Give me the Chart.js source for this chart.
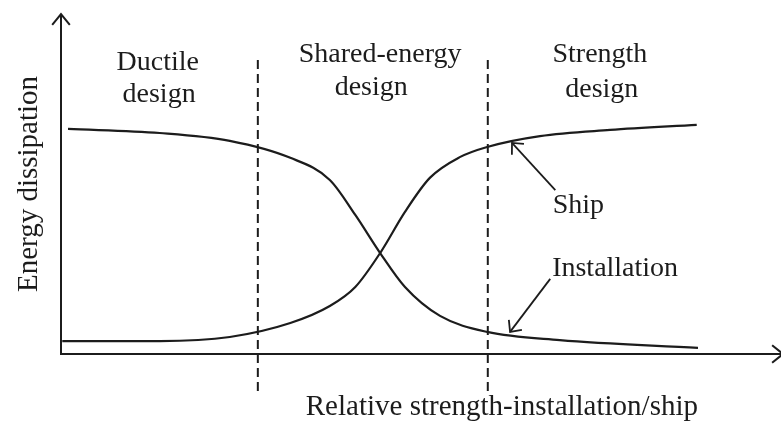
<!DOCTYPE html>
<html><head><meta charset="utf-8">
<script src="https://cdn.jsdelivr.net/npm/chart.js@4"></script>
<style>html,body{margin:0;padding:0;background:#fff}</style>
</head><body>
<canvas id="c" width="781" height="435"></canvas>
<script>
// ---- data (schematic, data units: x 0..100, y 0..100) ----
const shipX = [0.2, 15.5, 26.5, 36.0, 42.2, 46.2, 50.1, 54.0, 57.9, 62.6, 66.9, 75.2, 86.2, 99.8];
const shipY = [3.8, 3.8, 5.0, 9.1, 14.1, 19.7, 29.7, 41.8, 51.8, 57.9, 60.9, 64.1, 65.9, 67.4];
const instX = [1.1, 15.5, 26.5, 36.0, 42.2, 46.2, 50.1, 54.0, 59.5, 66.9, 78.3, 100.0];
const instY = [66.2, 65.0, 62.7, 57.7, 51.2, 40.9, 29.7, 19.7, 11.2, 6.5, 4.1, 1.8];
const boundaryX = [30.9, 67.0];
const boundaryYRange = [86.5, -11.5];
const regionLines = ["Ductile", "design", "Shared-energy", "design", "Strength", "design"];
const regionLineX = [15.2, 15.4, 50.1, 48.7, 84.6, 84.9];
const regionLineY = [83.5, 74.1, 85.9, 76.2, 85.9, 75.6];
const curveLabels = ["Ship", "Installation"];
const curveLabelX = [77.2, 77.1];
const curveLabelY = [41.5, 22.9];
const arrowTailX = [77.6, 76.8];
const arrowTailY = [48.2, 22.1];
const arrowTipX = [70.8, 70.5];
const arrowTipY = [62.1, 6.5];
const xTitle = "Relative strength-installation/ship";
const yTitle = "Energy dissipation";

const INK = '#1c1c1c';
const FONT = '"Liberation Serif", "DejaVu Serif", serif';

const pts = (xs, ys) => xs.map((x, i) => ({x, y: ys[i]}));

function head(ctx, tx, ty, fx, fy, len, spread) {
  const a = Math.atan2(fy - ty, fx - tx);
  ctx.beginPath();
  ctx.moveTo(tx + len * Math.cos(a + spread), ty + len * Math.sin(a + spread));
  ctx.lineTo(tx, ty);
  ctx.lineTo(tx + len * Math.cos(a - spread), ty + len * Math.sin(a - spread));
  ctx.stroke();
}

const schematic = {
  id: 'schematic',
  afterDraw(chart) {
    const {ctx, scales: {x, y}} = chart;
    const W = chart.width;
    ctx.save();
    ctx.strokeStyle = INK;
    ctx.fillStyle = INK;
    ctx.lineWidth = 2;
    ctx.lineCap = 'butt';
    const x0 = x.getPixelForValue(0), y0 = y.getPixelForValue(0);
    const yTop = y.getPixelForValue(100);
    // y axis with arrow
    ctx.beginPath(); ctx.moveTo(x0, y0 + 1); ctx.lineTo(x0, yTop); ctx.stroke();
    head(ctx, x0, yTop, x0, yTop + 20, 14, 0.68);
    // x axis with arrow
    ctx.beginPath(); ctx.moveTo(x0 - 1, y0); ctx.lineTo(W + 2, y0); ctx.stroke();
    head(ctx, W + 2, y0, W - 20, y0, 14, 0.68);
    // region labels
    ctx.font = '28px ' + FONT;
    ctx.textAlign = 'center';
    ctx.textBaseline = 'alphabetic';
    regionLines.forEach((t, i) => {
      ctx.fillText(t, x.getPixelForValue(regionLineX[i]), y.getPixelForValue(regionLineY[i]));
    });
    // curve labels
    ctx.textAlign = 'left';
    curveLabels.forEach((t, i) => {
      ctx.fillText(t, x.getPixelForValue(curveLabelX[i]), y.getPixelForValue(curveLabelY[i]));
    });
    // pointer arrows
    ctx.lineWidth = 1.8;
    arrowTailX.forEach((_, i) => {
      const fx = x.getPixelForValue(arrowTailX[i]), fy = y.getPixelForValue(arrowTailY[i]);
      const tx = x.getPixelForValue(arrowTipX[i]), ty = y.getPixelForValue(arrowTipY[i]);
      ctx.beginPath(); ctx.moveTo(fx, fy); ctx.lineTo(tx, ty); ctx.stroke();
      head(ctx, tx, ty, fx, fy, 12, 0.75);
    });
    ctx.restore();
  }
};

const curveStyle = {
  borderColor: INK, borderWidth: 2.2, pointRadius: 0, fill: false,
  cubicInterpolationMode: 'monotone'
};
const dashStyle = {
  borderColor: INK, borderWidth: 2, pointRadius: 0, fill: false,
  borderDash: [9, 5], clip: false, tension: 0
};

new Chart(document.getElementById('c'), {
  type: 'line',
  data: {
    datasets: [
      {label: 'Ship', data: pts(shipX, shipY), ...curveStyle},
      {label: 'Installation', data: pts(instX, instY), ...curveStyle},
      ...boundaryX.map(b => ({label: 'boundary', data: pts([b, b], boundaryYRange), ...dashStyle}))
    ]
  },
  options: {
    responsive: false,
    animation: false,
    devicePixelRatio: 1,
    layout: {padding: {left: 0, top: 14, right: 83, bottom: 0}},
    plugins: {legend: {display: false}, tooltip: {enabled: false}},
    scales: {
      x: {
        type: 'linear', min: 0, max: 100,
        grid: {display: false}, border: {display: false}, ticks: {display: false},
        title: {display: true, text: xTitle, align: 'end', color: INK,
                font: {family: FONT, size: 29}, padding: {top: 0, bottom: 10}},
        afterFit(s) { s.height = 81; }
      },
      y: {
        type: 'linear', min: 0, max: 100,
        grid: {display: false}, border: {display: false}, ticks: {display: false},
        title: {display: true, text: yTitle, color: INK,
                font: {family: FONT, size: 29}, padding: {top: 12, bottom: 0}},
        afterFit(s) { s.width = 61; }
      }
    }
  },
  plugins: [schematic]
});
</script>
</body></html>
